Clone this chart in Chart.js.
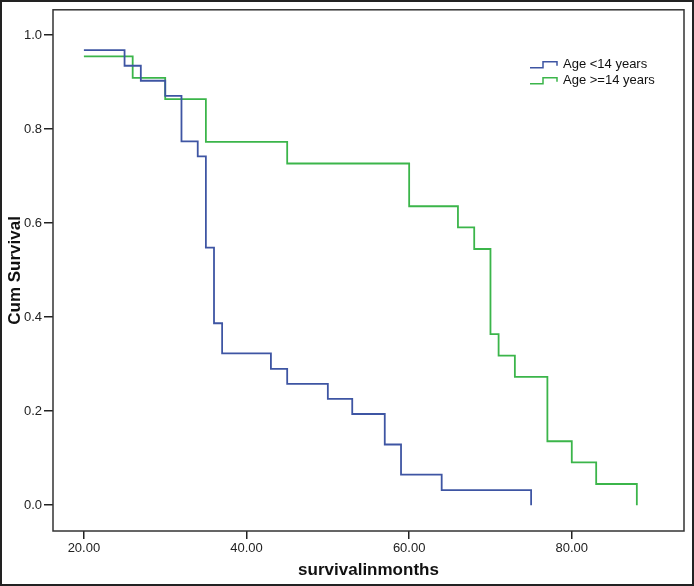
<!DOCTYPE html>
<html>
<head>
<meta charset="utf-8">
<script src="https://cdn.jsdelivr.net/npm/chart.js@4.4.1/dist/chart.umd.min.js"></script>
<style>
  html, body { margin: 0; padding: 0; background: #fff; }
  #wrap { width: 694px; height: 586px; position: relative; }
</style>
</head>
<body>
<div id="wrap"><canvas id="km"></canvas></div>
<script>
// Kaplan-Meier steps
const youngTimes = [20, 25, 27, 30, 32, 34, 35, 36, 37, 43, 45, 50, 53, 57, 59, 64, 75];
const youngSurv = [0.968, 0.935, 0.903, 0.871, 0.774, 0.742, 0.548, 0.387, 0.323, 0.290, 0.258, 0.226, 0.194, 0.129, 0.065, 0.032, 0.0];
const olderTimes = [20, 26, 30, 35, 45, 60, 66, 68, 70, 71, 73, 77, 80, 83, 88];
const olderSurv = [0.955, 0.909, 0.864, 0.773, 0.727, 0.636, 0.591, 0.545, 0.364, 0.318, 0.273, 0.136, 0.091, 0.045, 0.0];
const seriesLabels = ['Age <14 years', 'Age >=14 years'];
const seriesColors = ['#3e55a3', '#3bb54a'];
const xTicks = [20, 40, 60, 80];
const yTicks = [0, 0.2, 0.4, 0.6, 0.8, 1.0];

const FONT = '"Liberation Sans", Arial, sans-serif';

const toPoints = (xs, ys) => xs.map((x, i) => ({ x: x, y: ys[i] }));

// frame around the plot and around the whole picture
const framePlugin = {
  id: 'frame',
  afterDraw(chart) {
    const { ctx, chartArea: a } = chart;
    ctx.save();
    ctx.strokeStyle = '#333';
    ctx.lineWidth = 1.5;
    ctx.strokeRect(a.left, a.top, a.right - a.left, a.bottom - a.top);
    ctx.strokeStyle = '#222';
    ctx.lineWidth = 2;
    ctx.strokeRect(1, 1, chart.width - 2, chart.height - 2);
    ctx.restore();
  }
};

// SPSS style legend with little step icons, top right inside the plot
const stepLegend = {
  id: 'stepLegend',
  afterDatasetsDraw(chart) {
    const { ctx, chartArea: a } = chart;
    const x0 = a.right - 154;
    ctx.save();
    ctx.font = '13px ' + FONT;
    ctx.textBaseline = 'middle';
    chart.data.datasets.forEach((ds, i) => {
      const y = a.top + 55 + i * 16;
      ctx.strokeStyle = ds.borderColor;
      ctx.lineWidth = 1.5;
      ctx.beginPath();
      ctx.moveTo(x0, y + 3);
      ctx.lineTo(x0 + 13, y + 3);
      ctx.lineTo(x0 + 13, y - 3);
      ctx.lineTo(x0 + 27, y - 3);
      ctx.lineTo(x0 + 27, y + 1);
      ctx.stroke();
      ctx.fillStyle = '#111';
      ctx.fillText(ds.label, x0 + 33, y);
    });
    ctx.restore();
  }
};

const datasets = [
  { label: seriesLabels[0], data: toPoints(youngTimes, youngSurv), borderColor: seriesColors[0] },
  { label: seriesLabels[1], data: toPoints(olderTimes, olderSurv), borderColor: seriesColors[1] }
].map(d => Object.assign(d, {
  stepped: 'before',
  borderWidth: 1.8,
  pointRadius: 0,
  fill: false
}));

new Chart(document.getElementById('km'), {
  type: 'line',
  data: { datasets: datasets },
  plugins: [framePlugin, stepLegend],
  options: {
    responsive: true,
    maintainAspectRatio: false,
    animation: false,
    layout: { padding: { top: 9, right: 10, left: 0, bottom: 0 } },
    plugins: {
      legend: { display: false },
      tooltip: { enabled: false }
    },
    scales: {
      x: {
        type: 'linear',
        min: 16.2,
        max: 93.8,
        afterBuildTicks: s => { s.ticks = xTicks.map(v => ({ value: v })); },
        afterFit: s => { s.height = 55; },
        ticks: {
          color: '#222',
          font: { family: FONT, size: 13 },
          padding: 2,
          maxRotation: 0,
          callback: v => Number(v).toFixed(2)
        },
        grid: { drawOnChartArea: false, drawTicks: true, tickLength: 8, color: '#222', lineWidth: 1.5 },
        border: { display: false },
        title: {
          display: true,
          text: 'survivalinmonths',
          color: '#111',
          font: { family: FONT, size: 17, weight: 'bold' },
          padding: { top: 0, bottom: 5 }
        }
      },
      y: {
        min: -0.055,
        max: 1.054,
        afterBuildTicks: s => { s.ticks = yTicks.map(v => ({ value: v })); },
        afterFit: s => { s.width = 53; },
        ticks: {
          color: '#222',
          font: { family: FONT, size: 13 },
          padding: 2,
          callback: v => Number(v).toFixed(1)
        },
        grid: { drawOnChartArea: false, drawTicks: true, tickLength: 9, color: '#222', lineWidth: 1.5 },
        border: { display: false },
        title: {
          display: true,
          text: 'Cum Survival',
          color: '#111',
          font: { family: FONT, size: 17, weight: 'bold' },
          padding: { top: 5, bottom: 0 }
        }
      }
    }
  }
});
</script>
</body>
</html>
